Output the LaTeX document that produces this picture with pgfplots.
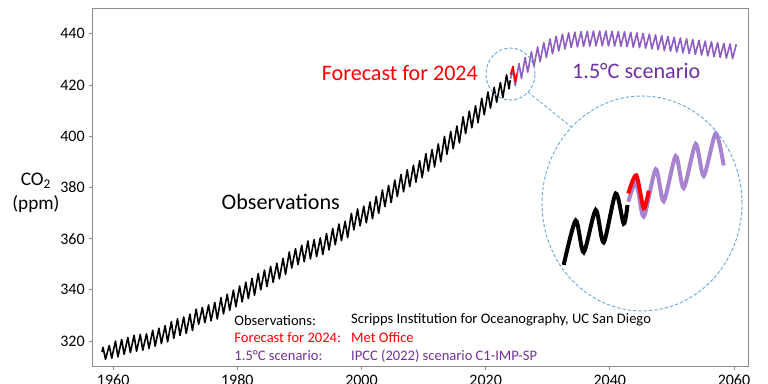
\documentclass[border=0pt]{standalone}
\usepackage{pgfplots}
\usepackage{pgfplotstable}
\pgfplotsset{compat=1.18}
\usepackage{fontspec}
\setmainfont{Carlito}
\definecolor{FcstRed}{HTML}{FF0000}
\definecolor{ScenLine}{HTML}{8E5EC2}
\definecolor{ScenText}{HTML}{7030A0}
\definecolor{ZoomBlue}{HTML}{6AA8DE}
\definecolor{FrameGray}{HTML}{8C8C8C}

% observations: spring peak and autumn trough for each year (ppm)
\pgfplotstableread{
x y
1958.20 315.7
1958.37 317.5
1958.77 312.9
1959.37 318.3
1959.77 313.3
1960.37 320.0
1960.77 313.8
1961.37 320.6
1961.77 314.8
1962.37 321.4
1962.77 315.5
1963.37 322.2
1963.77 316.0
1964.37 322.6
1964.77 316.4
1965.37 322.8
1965.77 317.1
1966.37 324.2
1966.77 318.0
1967.37 325.0
1967.77 319.0
1968.37 326.0
1968.77 319.7
1969.37 327.6
1969.77 321.1
1970.37 328.7
1970.77 322.2
1971.37 329.4
1971.77 323.0
1972.37 330.5
1972.77 324.1
1973.37 332.5
1973.77 326.5
1974.37 333.1
1974.77 327.2
1975.37 334.1
1975.77 327.9
1976.37 335.1
1976.77 328.6
1977.37 336.9
1977.77 330.6
1978.37 338.3
1978.77 332.0
1979.37 339.9
1979.77 333.4
1980.37 341.5
1980.77 335.3
1981.37 343.0
1981.77 336.6
1982.37 344.5
1982.77 337.9
1983.37 346.4
1983.77 340.0
1984.37 347.7
1984.77 341.3
1985.37 349.2
1985.77 342.9
1986.37 350.4
1986.77 344.3
1987.37 352.3
1987.77 346.0
1988.37 354.8
1988.77 348.5
1989.37 356.1
1989.77 349.9
1990.37 357.4
1990.77 351.0
1991.37 359.1
1991.77 352.1
1992.37 359.6
1992.77 353.0
1993.37 360.3
1993.77 353.8
1994.37 362.0
1994.77 355.6
1995.37 364.0
1995.77 357.6
1996.37 365.7
1996.77 359.2
1997.37 366.8
1997.77 360.4
1998.37 369.9
1998.77 363.4
1999.37 371.6
1999.77 365.0
2000.37 372.7
2000.77 366.2
2001.37 374.3
2001.77 367.8
2002.37 376.5
2002.77 369.9
2003.37 379.0
2003.77 372.5
2004.37 380.8
2004.77 374.1
2005.37 382.9
2005.77 376.4
2006.37 385.1
2006.77 378.3
2007.37 386.9
2007.77 380.3
2008.37 388.7
2008.77 382.1
2009.37 390.5
2009.77 383.8
2010.37 393.2
2010.77 386.4
2011.37 394.8
2011.77 388.0
2012.37 397.0
2012.77 390.0
2013.37 399.9
2013.77 393.0
2014.37 401.9
2014.77 395.1
2015.37 404.0
2015.77 397.4
2016.37 407.6
2016.77 401.0
2017.37 409.8
2017.77 403.3
2018.37 411.9
2018.77 405.3
2019.37 414.8
2019.77 408.4
2020.37 417.3
2020.77 411.0
2021.37 419.1
2021.77 413.3
2022.37 421.0
2022.77 415.1
2023.37 424.0
2023.77 418.5
2023.96 421.9
}\obs

% Met Office forecast for 2024
\pgfplotstableread{
x y
2024.00 424.0
2024.40 427.3
2024.77 421.3
2025.02 424.5
}\fcst

% 1.5C scenario (IPCC C1-IMP-SP)
\pgfplotstableread{
x y
2024.00 422.5
2024.40 426.0
2024.77 419.8
2025.37 428.4
2025.77 422.6
2026.37 430.8
2026.77 425.0
2027.37 433.0
2027.77 427.2
2028.37 434.9
2028.77 429.1
2029.37 436.6
2029.77 430.8
2030.37 438.0
2030.77 432.2
2031.37 439.1
2031.77 433.3
2032.37 439.9
2032.77 434.1
2033.37 440.4
2033.77 434.6
2034.37 440.7
2034.77 434.9
2035.37 440.9
2035.77 435.1
2036.37 441.0
2036.77 435.2
2037.37 441.1
2037.77 435.3
2038.37 441.1
2038.77 435.3
2039.37 441.1
2039.77 435.3
2040.37 441.0
2040.77 435.2
2041.37 440.9
2041.77 435.1
2042.37 440.8
2042.77 435.0
2043.37 440.6
2043.77 434.8
2044.37 440.4
2044.77 434.6
2045.37 440.2
2045.77 434.4
2046.37 439.9
2046.77 434.1
2047.37 439.6
2047.77 433.8
2048.37 439.3
2048.77 433.5
2049.37 439.0
2049.77 433.2
2050.37 438.7
2050.77 432.9
2051.37 438.4
2051.77 432.6
2052.37 438.1
2052.77 432.3
2053.37 437.8
2053.77 432.0
2054.37 437.5
2054.77 431.7
2055.37 437.2
2055.77 431.4
2056.37 436.9
2056.77 431.1
2057.37 436.6
2057.77 430.8
2058.37 436.3
2058.77 430.5
2059.37 436.1
2059.77 430.3
2060.37 435.9
}\scen

\begin{document}
\begin{tikzpicture}
\begin{axis}[
  at={(0pt,0pt)}, anchor=south west,
  scale only axis, width=491.7pt, height=268.8pt,
  xmin=1956.7, xmax=2062.3, ymin=310, ymax=450,
  xtick={1960,1980,...,2060}, ytick={320,340,...,440},
  tick pos=left, tick align=outside, major tick length=2.5pt,
  axis line style={FrameGray, line width=0.9pt},
  major tick style={FrameGray, line width=0.7pt},
  tick label style={font=\fontsize{12}{14}\selectfont},
  /pgf/number format/1000 sep={},
  /pgf/number format/assume math mode=true,
]
\addplot[black, line width=1.2pt, line join=round] table {\obs};
\addplot[ScenLine, line width=1.2pt, line join=round] table {\scen};
\addplot[FcstRed, line width=1.2pt, line join=round] table {\fcst};

\draw[ZoomBlue, line width=0.7pt, dash pattern=on 2.5pt off 1.5pt]
  (axis cs:2024.0,424.3) ellipse [x radius=18.4pt, y radius=19.5pt];
\draw[ZoomBlue, line width=0.6pt, dash pattern=on 2.5pt off 1.5pt]
  (axis cs:2026.8,417.3) -- (axis cs:2033.8,403.6);

\node[font=\fontsize{16.6}{20}\selectfont] at (axis cs:1987.0,374.3) {Observations};
\node[anchor=east, inner sep=0pt, text=FcstRed, font=\fontsize{16.6}{20}\selectfont]
  at (axis cs:2018.8,424.7) {Forecast for 2024};
\node[anchor=west, inner sep=0pt, text=ScenText, font=\fontsize{16.6}{20}\selectfont]
  at (axis cs:2033.9,425.5) {1.5°C scenario};

\node[anchor=west, inner sep=0pt, font=\fontsize{10.9}{12}\selectfont]
  at (axis cs:1979.5,328.2) {Observations:};
\node[anchor=west, inner sep=0pt, font=\fontsize{10.9}{12}\selectfont]
  at (axis cs:1998.3,328.2) {Scripps Institution for Oceanography, UC San Diego};
\node[anchor=west, inner sep=0pt, text=FcstRed, font=\fontsize{10.9}{12}\selectfont]
  at (axis cs:1979.5,321.2) {Forecast for 2024:};
\node[anchor=west, inner sep=0pt, text=FcstRed, font=\fontsize{10.9}{12}\selectfont]
  at (axis cs:1998.3,321.2) {Met Office};
\node[anchor=west, inner sep=0pt, text=ScenText, font=\fontsize{10.9}{12}\selectfont]
  at (axis cs:1979.5,314.2) {1.5°C scenario:};
\node[anchor=west, inner sep=0pt, text=ScenText, font=\fontsize{10.9}{12}\selectfont]
  at (axis cs:1998.3,314.2) {IPCC (2022) scenario C1-IMP-SP};
\end{axis}

% magnified view of 2021-2028
\begin{axis}[
  at={(337pt,41.8pt)}, anchor=south west,
  scale only axis, width=150pt, height=161.2pt,
  xmin=2019.685, xmax=2029.685, ymin=402.64, ymax=441.73,
  hide axis, clip=false,
]
\addplot[ScenLine!85, opacity=0.9, line width=3pt, smooth, tension=0.45,
  restrict x to domain=2023.9:2028.8] table {\scen};
\addplot[black, line width=3pt, smooth, tension=0.45,
  restrict x to domain=2020.7:2024.0] table {\obs};
\addplot[FcstRed, line width=3pt, smooth, tension=0.45] table {\fcst};
\draw[ZoomBlue, line width=0.7pt, dash pattern=on 2.5pt off 1.5pt]
  (rel axis cs:0.5,0.5) ellipse [x radius=75pt, y radius=80.6pt];
\end{axis}

\node[align=center, font=\fontsize{14.4}{18}\selectfont] at (-42.5pt,130.6pt)
  {CO\textsubscript{2}\\(ppm)};

\pgfresetboundingbox
\path[use as bounding box] (-69.5pt,-13pt) rectangle (506.5pt,275pt);
\end{tikzpicture}
\end{document}
